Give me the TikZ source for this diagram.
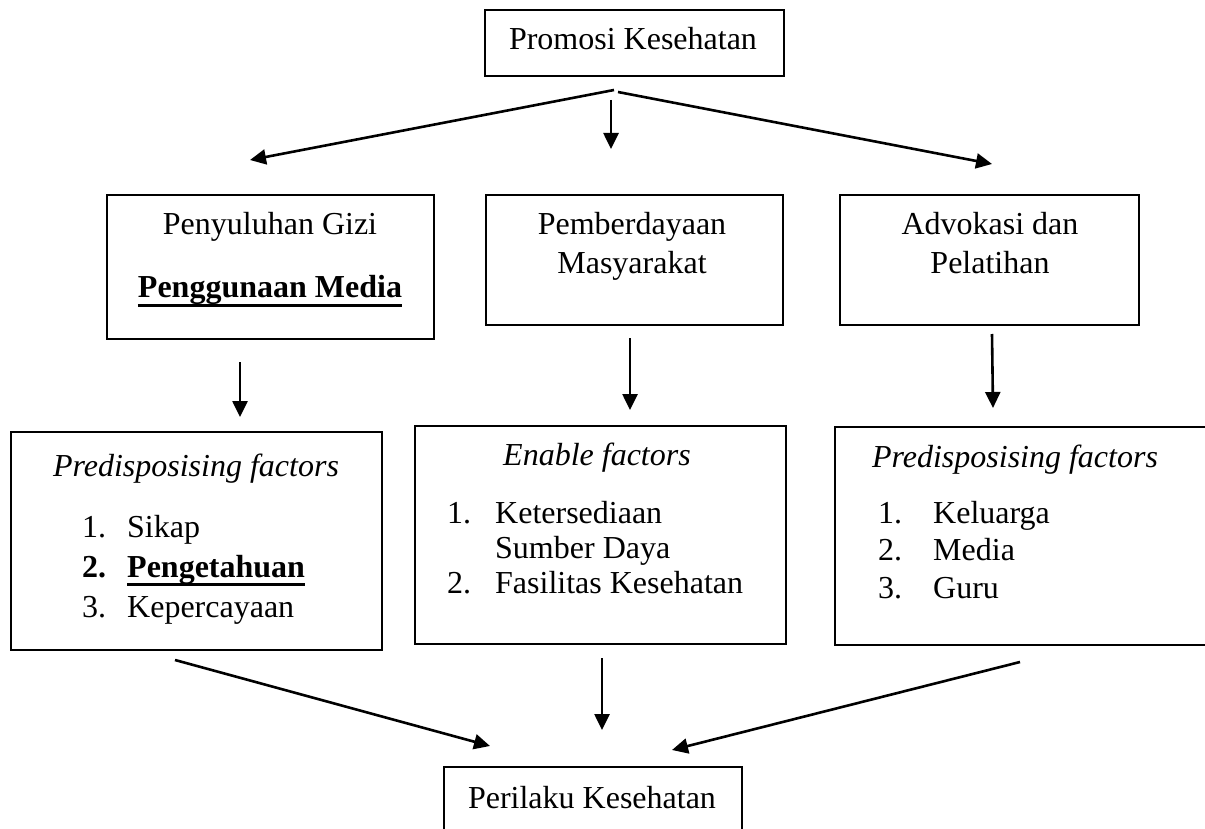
\documentclass[tikz,border=0pt]{standalone}
\usepackage{fontspec}
\setmainfont{Liberation Serif}
\usetikzlibrary{arrows.meta}
\newcommand\myul[1]{\setbox0\hbox{#1}\rlap{\rule[-9pt]{\wd0}{2.6pt}}\box0}
\tikzset{
  boxnode/.style={draw, line width=1.8pt, inner sep=0pt, anchor=north west},
  txt/.style={inner sep=0pt, anchor=base, font=\fontsize{32}{38}\selectfont},
  lst/.style={inner sep=0pt, anchor=base west, font=\fontsize{32}{38}\selectfont},
  arr/.style={line width=2.6pt, -{Triangle[length=16pt,width=15pt]}},
  ln/.style={line width=1.8pt},
}
\begin{document}
\begin{tikzpicture}[x=1pt,y=-1pt]
\useasboundingbox (0,0) rectangle (1205,829);
% top box
\node[boxnode, minimum width=299pt, minimum height=66pt] (top) at (484,9) {};
\node[txt] (ttop) at (633,50) {Promosi Kesehatan};
% row 2 boxes
\node[boxnode, minimum width=327pt, minimum height=144pt] (b2l) at (106,194) {};
\node[boxnode, minimum width=297pt, minimum height=130pt] (b2m) at (485,194) {};
\node[boxnode, minimum width=299pt, minimum height=130pt] (b2r) at (839,194) {};
\node[txt] (t2l1) at (270,235) {Penyuluhan Gizi};
\node[txt] (t2l2) at (270,298) {\myul{\bfseries Penggunaan Media}};
\node[txt] (t2m1) at (632,235) {Pemberdayaan};
\node[txt] (t2m2) at (632,273) {Masyarakat};
\node[txt] (t2r1) at (990,235) {Advokasi dan};
\node[txt] (t2r2) at (990,273) {Pelatihan};
% row 3 boxes
\node[boxnode, minimum width=371pt, minimum height=218pt] (b3l) at (10,431) {};
\node[boxnode, minimum width=371pt, minimum height=218pt] (b3m) at (414,425) {};
\coordinate (b3rtr) at (1210,427);
\coordinate (b3rtl) at (835,427);
\coordinate (b3rbl) at (835,645);
\coordinate (b3rbr) at (1210,645);
\draw[ln] (b3rtr) -- (b3rtl) -- (b3rbl) -- (b3rbr);
% left list
\node[txt] (h3l) at (196,476) {\itshape Predisposising factors};
\node[lst] (nl1) at (82,537) {1.};
\node[lst] (il1) at (127,537) {Sikap};
\node[lst] (nl2) at (82,577) {\bfseries 2.};
\node[lst] (il2) at (127,577) {\myul{\bfseries Pengetahuan}};
\node[lst] (nl3) at (82,617) {3.};
\node[lst] (il3) at (127,617) {Kepercayaan};
% middle list
\node[txt] (h3m) at (597,465) {\itshape Enable factors};
\node[lst] (nm1) at (447,523) {1.};
\node[lst] (im1) at (495,523) {Ketersediaan};
\node[lst] (im1b) at (495,558) {Sumber Daya};
\node[lst] (nm2) at (447,593) {2.};
\node[lst] (im2) at (495,593) {Fasilitas Kesehatan};
% right list
\node[txt] (h3r) at (1015,467) {\itshape Predisposising factors};
\node[lst] (nr1) at (878,523) {1.};
\node[lst] (ir1) at (933,523) {Keluarga};
\node[lst] (nr2) at (878,560) {2.};
\node[lst] (ir2) at (933,560) {Media};
\node[lst] (nr3) at (878,598) {3.};
\node[lst] (ir3) at (933,598) {Guru};
% bottom box (cut)
\coordinate (bbl) at (444,835);
\coordinate (btl) at (444,767);
\coordinate (btr) at (742,767);
\coordinate (bbr) at (742,835);
\draw[ln] (bbl) -- (btl) -- (btr) -- (bbr);
\node[txt] (tbot) at (592,808) {Perilaku Kesehatan};
% arrows top
\coordinate (a1s) at (614,90);
\coordinate (a1e) at (250,160);
\coordinate (a2s) at (611,100);
\coordinate (a2e) at (611,149);
\coordinate (a3s) at (618,92);
\coordinate (a3e) at (992,164);
\draw[arr] (a1s) -- (a1e);
\draw[arr] (a2s) -- (a2e);
\draw[arr] (a3s) -- (a3e);
% arrows middle
\coordinate (m1s) at (240,362);
\coordinate (m1e) at (240,417);
\coordinate (m2s) at (630,338);
\coordinate (m2e) at (630,410);
\coordinate (m3s) at (992,334);
\coordinate (m3e) at (993,408);
\draw[arr] (m1s) -- (m1e);
\draw[arr] (m2s) -- (m2e);
\draw[arr] (m3s) -- (m3e);
% arrows bottom
\coordinate (c1s) at (175,660);
\coordinate (c1e) at (490,746);
\coordinate (c2s) at (602,658);
\coordinate (c2e) at (602,730);
\coordinate (c3s) at (1020,662);
\coordinate (c3e) at (672,750);
\draw[arr] (c1s) -- (c1e);
\draw[arr] (c2s) -- (c2e);
\draw[arr] (c3s) -- (c3e);
\end{tikzpicture}
\end{document}
